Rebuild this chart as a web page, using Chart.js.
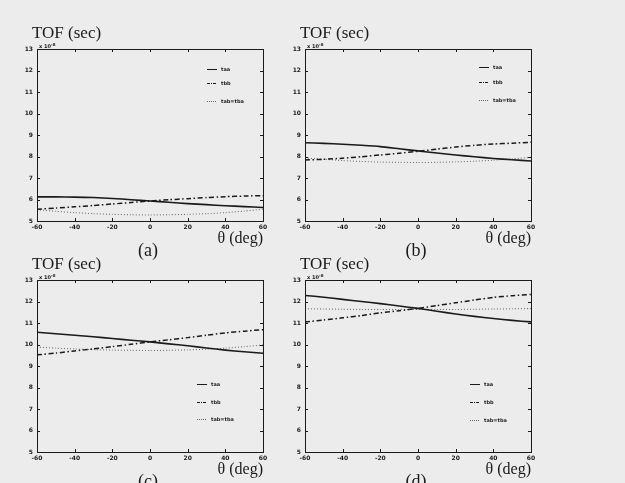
<!DOCTYPE html>
<html>
<head>
<meta charset="utf-8">
<script src="https://cdn.jsdelivr.net/npm/chart.js@4.4.0/dist/chart.umd.min.js"></script>
<style>
  body { margin: 0; background: #ececec; }
  #wrap { position: relative; width: 625px; height: 483px; overflow: hidden; }
  canvas { position: absolute; }
</style>
</head>
<body>
<div id="wrap">
  <canvas id="chartA" width="290" height="260" style="left:0;top:0"></canvas>
  <canvas id="chartB" width="290" height="260" style="left:268px;top:0"></canvas>
  <canvas id="chartC" width="290" height="260" style="left:0;top:231px"></canvas>
  <canvas id="chartD" width="290" height="260" style="left:268px;top:231px"></canvas>
</div>
<script>
// theta (deg)
const angles = [-60, -50, -40, -30, -20, -10, 0, 10, 20, 30, 40, 50, 60];
const seriesNames = ['taa', 'tbb', 'tab=tba'];

// TOF values, x 10^-8 sec
const aTaa = [6.12, 6.12, 6.11, 6.09, 6.05, 5.99, 5.93, 5.87, 5.81, 5.76, 5.71, 5.67, 5.63];
const aTbb = [5.55, 5.60, 5.66, 5.72, 5.79, 5.86, 5.93, 5.99, 6.04, 6.09, 6.13, 6.16, 6.18];
const aTab = [5.52, 5.45, 5.39, 5.34, 5.31, 5.29, 5.28, 5.29, 5.31, 5.34, 5.39, 5.46, 5.55];

const bTaa = [8.64, 8.61, 8.57, 8.52, 8.46, 8.36, 8.26, 8.16, 8.07, 7.99, 7.91, 7.85, 7.79];
const bTbb = [7.84, 7.87, 7.92, 7.99, 8.07, 8.15, 8.24, 8.34, 8.44, 8.52, 8.58, 8.62, 8.66];
const bTab = [7.93, 7.87, 7.81, 7.77, 7.74, 7.73, 7.72, 7.73, 7.75, 7.78, 7.83, 7.89, 7.96];

const cTaa = [10.57, 10.50, 10.43, 10.36, 10.28, 10.20, 10.12, 10.03, 9.94, 9.84, 9.74, 9.66, 9.59];
const cTbb = [9.52, 9.60, 9.70, 9.80, 9.90, 10.01, 10.12, 10.22, 10.32, 10.43, 10.54, 10.62, 10.69];
const cTab = [9.88, 9.83, 9.79, 9.76, 9.74, 9.73, 9.72, 9.73, 9.75, 9.78, 9.83, 9.90, 9.98];

const dTaa = [12.28, 12.20, 12.10, 12.00, 11.90, 11.79, 11.68, 11.55, 11.42, 11.31, 11.21, 11.12, 11.05];
const dTbb = [11.05, 11.14, 11.24, 11.35, 11.47, 11.57, 11.68, 11.81, 11.94, 12.07, 12.19, 12.27, 12.33];
const dTab = [11.66, 11.65, 11.64, 11.63, 11.63, 11.63, 11.63, 11.63, 11.63, 11.64, 11.65, 11.66, 11.67];

const ink = '#1a1a1a';
const tickFont = { family: 'DejaVu Sans', size: 6, weight: 'bold' };
const styles = [
  { borderColor: ink, borderWidth: 1.6, borderDash: [] },
  { borderColor: ink, borderWidth: 1.5, borderDash: [5, 2.5, 1.5, 2.5] },
  { borderColor: '#666', borderWidth: 1, borderDash: [1, 2] }
];

// matlab style box with inward ticks on all sides
const boxPlugin = {
  id: 'boxPlugin',
  afterDraw(chart) {
    const { ctx, chartArea: a, scales } = chart;
    ctx.save();
    ctx.strokeStyle = ink;
    ctx.lineWidth = 1;
    ctx.strokeRect(a.left + 0.5, a.top + 0.5, a.right - a.left, a.bottom - a.top);
    ctx.beginPath();
    scales.x.ticks.forEach((t, i) => {
      const x = Math.round(scales.x.getPixelForTick(i)) + 0.5;
      ctx.moveTo(x, a.bottom); ctx.lineTo(x, a.bottom - 3);
      ctx.moveTo(x, a.top); ctx.lineTo(x, a.top + 3);
    });
    scales.y.ticks.forEach((t, i) => {
      const y = Math.round(scales.y.getPixelForTick(i)) + 0.5;
      ctx.moveTo(a.left, y); ctx.lineTo(a.left + 3, y);
      ctx.moveTo(a.right, y); ctx.lineTo(a.right - 3, y);
    });
    ctx.stroke();
    ctx.restore();
  }
};

// title, exponent, caption and the small legend inside the axes
const notesPlugin = {
  id: 'notes',
  afterDraw(chart, args, opts) {
    const { ctx, chartArea: a } = chart;
    ctx.save();
    ctx.fillStyle = ink;
    ctx.textBaseline = 'alphabetic';
    ctx.font = '17px "Liberation Serif"';
    ctx.fillText(opts.title, a.left - 5, a.top - 11);

    ctx.font = 'bold 5px "DejaVu Sans"';
    ctx.fillText('x 10', a.left + 2, a.top - 1);
    ctx.font = 'bold 4px "DejaVu Sans"';
    ctx.fillText('-8', a.left + 14, a.top - 3);

    ctx.font = '18px "Liberation Serif"';
    ctx.textAlign = 'center';
    ctx.textBaseline = 'middle';
    ctx.fillText(opts.caption, (a.left + a.right) / 2 - 2, a.bottom + 30);

    ctx.textAlign = 'left';
    ctx.font = 'bold 5px "DejaVu Sans"';
    chart.data.datasets.forEach((ds, i) => {
      const x = a.left + opts.legendX;
      const y = a.top + opts.legendRows[i] + 0.5;
      ctx.beginPath();
      ctx.strokeStyle = ds.borderColor;
      ctx.lineWidth = 1;
      ctx.setLineDash(i === 0 ? [] : i === 1 ? [3, 1, 1, 1] : [1, 1]);
      ctx.moveTo(x, y); ctx.lineTo(x + 10, y);
      ctx.stroke();
      ctx.setLineDash([]);
      ctx.fillStyle = ink;
      ctx.fillText(ds.label, x + 14, y);
    });
    ctx.restore();
  }
};

function makeChart(id, values, caption, legendX, legendRows) {
  return new Chart(document.getElementById(id), {
    type: 'line',
    data: {
      datasets: values.map((v, i) => ({
        label: seriesNames[i],
        data: angles.map((t, j) => ({ x: t, y: v[j] })),
        borderColor: styles[i].borderColor,
        borderWidth: styles[i].borderWidth,
        borderDash: styles[i].borderDash,
        pointRadius: 0,
        fill: false,
        tension: 0.2
      }))
    },
    options: {
      responsive: false,
      animation: false,
      layout: { padding: { left: 0, right: 27, top: 49, bottom: 11 } },
      plugins: {
        legend: { display: false },
        tooltip: { enabled: false },
        title: { display: false },
        notes: { title: 'TOF (sec)', caption, legendX, legendRows }
      },
      scales: {
        x: {
          type: 'linear',
          min: -60,
          max: 60,
          grid: { display: false, drawTicks: false },
          border: { display: false },
          ticks: { stepSize: 20, color: ink, font: tickFont, padding: 3, maxRotation: 0 },
          title: {
            display: true,
            text: 'θ (deg)',
            align: 'end',
            color: ink,
            font: { family: 'Liberation Serif', size: 16 },
            padding: { top: 0, bottom: 0.8 }
          },
          afterFit(s) { s.height = 28; }
        },
        y: {
          min: 5,
          max: 13,
          grid: { display: false, drawTicks: false },
          border: { display: false },
          ticks: { stepSize: 1, color: ink, font: tickFont, padding: 4 },
          afterFit(s) { s.width = 37; }
        }
      }
    },
    plugins: [boxPlugin, notesPlugin]
  });
}

makeChart('chartA', [aTaa, aTbb, aTab], '(a)', 170, [20, 34, 52]);
makeChart('chartB', [bTaa, bTbb, bTab], '(b)', 174, [18, 33, 51]);
makeChart('chartC', [cTaa, cTbb, cTab], '(c)', 160, [104, 122, 139]);
makeChart('chartD', [dTaa, dTbb, dTab], '(d)', 165, [104, 122, 140]);
</script>
</body>
</html>
